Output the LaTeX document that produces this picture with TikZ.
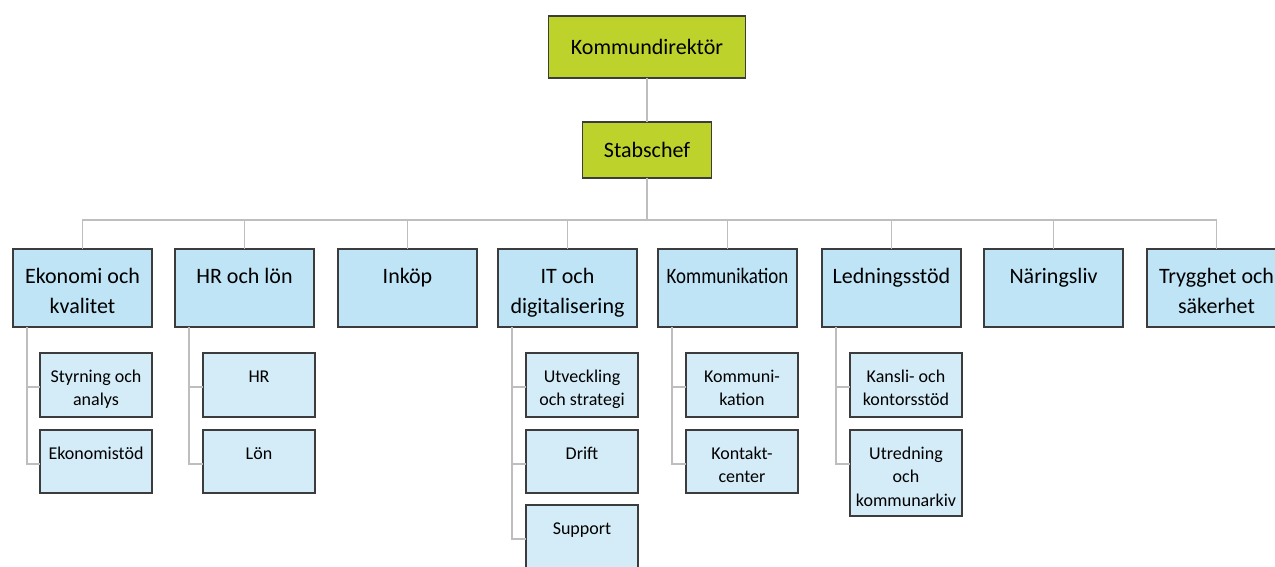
\documentclass[tikz,border=0pt]{standalone}
\usepackage{fontspec}
\setmainfont{Carlito}
\definecolor{grn}{RGB}{190,210,44}
\definecolor{mblue}{RGB}{190,228,246}
\definecolor{sblue}{RGB}{212,236,248}
\definecolor{bord}{RGB}{60,60,60}
\definecolor{conn}{RGB}{190,190,190}
\newcommand\mtxt[1]{\parbox[c][78pt][t]{139pt}{\centering\fontsize{22}{30}\selectfont\rule{0pt}{34pt}#1\par}}
\newcommand\stxt[2]{\parbox[c][#1][t]{112pt}{\centering\fontsize{18}{23.5}\selectfont\rule{0pt}{29pt}#2\par}}
\tikzset{
  topbox/.style={draw=bord, line width=1.5pt, fill=grn, inner sep=0pt, outer sep=0pt, font=\fontsize{22}{26}\selectfont},
  mainbox/.style={draw=bord, line width=1.5pt, fill=mblue, inner sep=0pt, outer sep=0pt, anchor=north west},
  subbox/.style={draw=bord, line width=1.5pt, fill=sblue, inner sep=0pt, outer sep=0pt, anchor=north west},
  conn/.style={draw=conn, line width=1.4pt}
}
\begin{document}
\begin{tikzpicture}[x=1pt,y=-1pt]
\useasboundingbox (0,0) rectangle (1275,566);
\clip (0,0) rectangle (1275,566);
\fill[white] (0,0) rectangle (1275,566);
\coordinate (hb) at (0,220);
% top
\node[topbox, minimum width=197pt, minimum height=62pt] (kd) at (647,47) {Kommundirektör};
\node[topbox, minimum width=129pt, minimum height=56pt] (sc) at (647,150) {Stabschef};
% main
\node[mainbox] (eko) at (13,249) {\mtxt{Ekonomi och\\kvalitet}};
\node[mainbox] (hr) at (175,249) {\mtxt{HR och lön}};
\node[mainbox] (ink) at (338,249) {\mtxt{Inköp}};
\node[mainbox] (it) at (498,249) {\mtxt{IT och\\digitalisering}};
\node[mainbox] (kom) at (658,249) {\mtxt{\scalebox{0.86}[1]{Kommunikation}}};
\node[mainbox] (led) at (822,249) {\mtxt{Ledningsstöd}};
\node[mainbox] (nar) at (984,249) {\mtxt{Näringsliv}};
\node[mainbox] (try) at (1147,249) {\mtxt{Trygghet och\\säkerhet}};
% sub
\node[subbox] (eko1) at (40,353) {\stxt{64pt}{Styrning och\\analys}};
\node[subbox] (eko2) at (40,430) {\stxt{63pt}{Ekonomistöd}};
\node[subbox] (hr1) at (203,353) {\stxt{64pt}{HR}};
\node[subbox] (hr2) at (203,430) {\stxt{63pt}{Lön}};
\node[subbox] (it1) at (526,353) {\stxt{64pt}{Utveckling\\och strategi}};
\node[subbox] (it2) at (526,430) {\stxt{63pt}{Drift}};
\node[subbox] (it3) at (526,505) {\stxt{64pt}{Support}};
\node[subbox] (kom1) at (686,353) {\stxt{64pt}{Kommuni-\\kation}};
\node[subbox] (kom2) at (686,430) {\stxt{63pt}{Kontakt-\\center}};
\node[subbox] (led1) at (850,353) {\stxt{64pt}{Kansli- och\\kontorsstöd}};
\node[subbox] (led2) at (850,430) {\stxt{86pt}{Utredning\\och\\kommunarkiv}};
% connector lines
\draw[conn] (kd.south) -- (sc.north);
\foreach \m in {eko,hr,ink,it,kom,led,nar,try}{
  \draw[conn] (sc.south) |- (\m.north |- hb) -- (\m.north);
}
\foreach \p/\s in {eko/eko1,eko/eko2,hr/hr1,hr/hr2,it/it1,it/it2,it/it3,kom/kom1,kom/kom2,led/led1,led/led2}{
  \draw[conn] ([xshift=14pt]\p.south west) |- ([yshift=-34pt]\s.north west);
}
\end{tikzpicture}
\end{document}
